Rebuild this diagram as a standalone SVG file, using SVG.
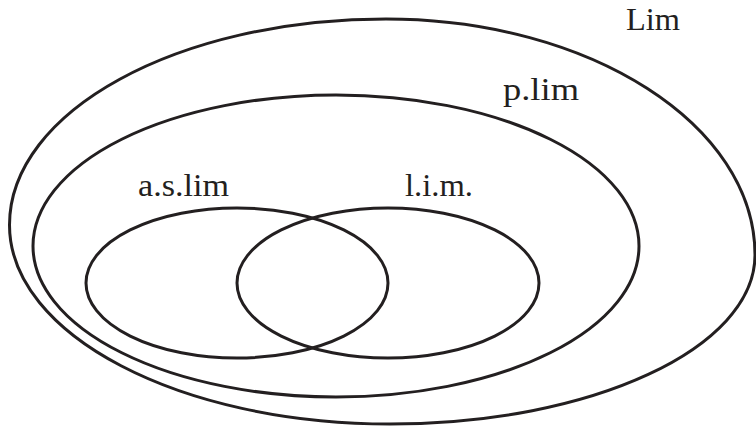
<svg xmlns="http://www.w3.org/2000/svg" width="756" height="427" viewBox="0 0 756 427">
<style>
.set{fill:none;stroke:#231f20;stroke-width:3}
.lbl{font-family:"Liberation Serif","Times New Roman",serif;font-size:32px;fill:#231f20}
</style>
<rect width="756" height="427" fill="#fff"/>
<g id="Lim">
<path class="set" d="M386,19 C590,19 755,125 755,255 C755,348 592,424 390,424 C180,424 9.5,335 9.5,225 C9.5,111 178,19 386,19 Z"/>
<text class="lbl" x="626" y="30" textLength="54" lengthAdjust="spacingAndGlyphs">Lim</text>
</g>
<g id="plim">
<ellipse class="set" cx="336" cy="246" rx="303" ry="151"/>
<text class="lbl" x="503" y="100" textLength="76" lengthAdjust="spacingAndGlyphs">p.lim</text>
</g>
<g id="aslim">
<ellipse class="set" cx="237" cy="283" rx="151" ry="75"/>
<text class="lbl" x="138" y="196" textLength="91" lengthAdjust="spacingAndGlyphs">a.s.lim</text>
</g>
<g id="lim2">
<ellipse class="set" cx="388" cy="283" rx="151" ry="75"/>
<text class="lbl" x="405" y="196" textLength="68" lengthAdjust="spacingAndGlyphs">l.i.m.</text>
</g>
<g id="connectors"></g>
</svg>
